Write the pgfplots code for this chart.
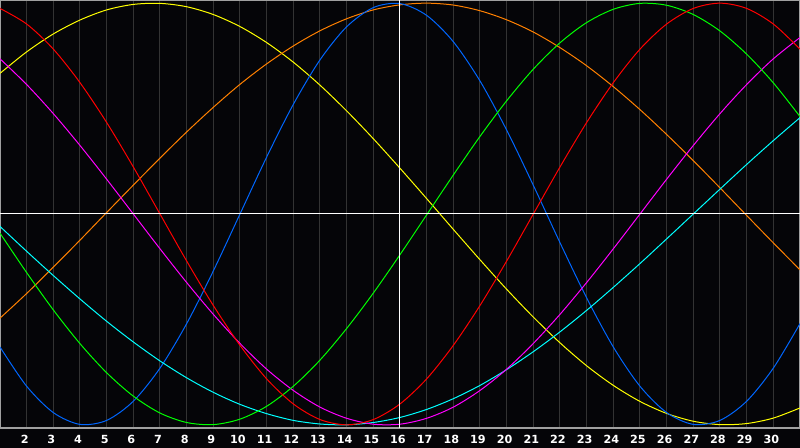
\documentclass[border=0pt]{standalone}
\usepackage{pgfplots}
\usepackage{pgfplotstable}
\usepackage{fontspec}
\setmainfont{DejaVu Sans}
\pgfplotsset{compat=1.18}

\definecolor{bg}{HTML}{050508}
\definecolor{gridc}{HTML}{333333}
\definecolor{framec}{HTML}{A0A0A0}
\definecolor{cred}{HTML}{FF0000}
\definecolor{cyellow}{HTML}{FFFF00}
\definecolor{corange}{HTML}{FF8000}
\definecolor{cblue}{HTML}{0066FF}
\definecolor{cgreen}{HTML}{00FF00}
\definecolor{cmagenta}{HTML}{FF00FF}
\definecolor{ccyan}{HTML}{00FFFF}

% day, then one column per curve (percent of amplitude)
\pgfplotstableread{
d   red   yellow orange blue   green  magenta cyan
1   97.5  66.7  -49.4  -63.1   -9.1   73.6   -5.9
2   90.1  76.9  -37.7  -81.7  -27.8   61.4  -17.7
3   78.2  85.4  -25.2  -94.2  -45.5   47.6  -29.2
4   62.3  92.0  -12.4  -99.8  -61.5   32.5  -40.3
5   43.4  96.8    0.7  -97.9  -75.3   16.5  -50.9
6   22.3  99.4   13.7  -88.8  -86.4    0.0  -60.7
7    0.0  99.9   26.5  -73.1  -94.4  -16.5  -69.7
8  -22.3  98.3   38.9  -52.0  -98.9  -32.5  -77.7
9  -43.4  94.6   50.6  -27.0  -99.9  -47.6  -84.6
10 -62.3  88.9   61.5    0.0  -97.3  -61.4  -90.3
11 -78.2  81.3   71.2   27.0  -91.2  -73.6  -94.7
12 -90.1  72.0   79.7   52.0  -81.7  -83.7  -97.9
13 -97.5  61.1   86.9   73.1  -69.3  -91.6  -99.6
14 -100   48.9   92.6   88.8  -54.3  -96.9  -100
15 -97.5  35.7   96.8   97.9  -37.5  -99.7  -98.9
16 -90.1  21.7   99.2   99.8  -19.3  -99.7  -96.5
17 -78.2   7.3  100     94.2   -0.4  -96.9  -92.7
18 -62.3  -7.3   99.1   81.7   18.5  -91.6  -87.6
19 -43.4 -21.7   96.4   63.1   36.8  -83.7  -81.3
20 -22.3 -35.7   92.1   39.8   53.7  -73.6  -73.8
21   0.0 -48.9   86.3   13.6   68.7  -61.4  -65.3
22  22.3 -61.1   78.9  -13.6   81.2  -47.6  -55.9
23  43.4 -72.0   70.3  -39.8   90.8  -32.5  -45.7
24  62.3 -81.3   60.4  -63.1   97.1  -16.5  -34.8
25  78.2 -88.9   49.5  -81.7   99.9    0.0  -23.5
26  90.1 -94.6   37.7  -94.2   99.0   16.5  -11.8
27  97.5 -98.3   25.3  -99.8   94.6   32.5    0.0
28 100   -99.9   12.4  -97.9   86.8   47.6   11.8
29  97.5 -99.4   -0.7  -88.8   75.8   61.4   23.5
30  90.1 -96.8  -13.7  -73.1   62.2   73.6   34.8
31  78.2 -92.0  -26.5  -52.0   46.2   83.7   45.7
}\bio

\begin{document}
\begin{tikzpicture}
\useasboundingbox (0,-10pt) rectangle (400pt,214pt);
\fill[bg] (0,-10pt) rectangle (400pt,214pt);
\begin{axis}[
    at={(0,0)}, anchor=south west,
    scale only axis,
    width=400pt, height=214pt,
    xmin=1, xmax=31,
    ymin=-101.5, ymax=101.5,
    xtick={2,...,30},
    ytick=\empty,
    xmajorgrids,
    major grid style={draw=gridc, line width=0.5pt},
    major tick length=0pt,
    axis line style={draw=framec, line width=0.8pt},
    /pgf/number format/assume math mode=true,
    xticklabel style={text=white, font=\fontsize{5.6}{6}\selectfont\bfseries, xshift=-1pt},
    every axis plot/.append style={smooth, line width=0.5pt},
]
\addplot[cyellow]  table[x=d, y=yellow]  {\bio};
\addplot[corange]  table[x=d, y=orange]  {\bio};
\addplot[cblue]    table[x=d, y=blue]    {\bio};
\addplot[ccyan]    table[x=d, y=cyan]    {\bio};
\addplot[cmagenta] table[x=d, y=magenta] {\bio};
\addplot[cgreen]   table[x=d, y=green]   {\bio};
\addplot[cred]     table[x=d, y=red]     {\bio};
\draw[white, line width=0.5pt] (axis cs:1,0) -- (axis cs:31,0);
\draw[white, line width=0.5pt] (axis cs:16,-101.5) -- (axis cs:16,101.5);
\end{axis}
\end{tikzpicture}
\end{document}
